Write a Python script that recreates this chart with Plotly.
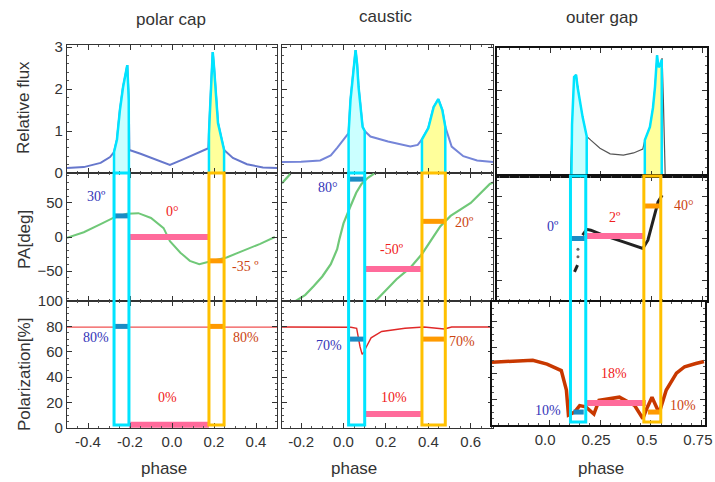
import numpy as np
import plotly.graph_objects as go

W, H = 715, 482

# ---------------- data ----------------
# polar cap
pc_flux_phase = [-0.5, -0.42, -0.34, -0.295, -0.276, -0.262, -0.248, -0.233, -0.219, -0.213, -0.206, -0.203,
                 -0.15, -0.1, -0.05, -0.01, 0.05, 0.1, 0.15, 0.173, 0.181, 0.189, 0.194, 0.2, 0.21, 0.219,
                 0.237, 0.248, 0.29, 0.357, 0.433, 0.5]
pc_flux = [0.12, 0.14, 0.24, 0.38, 0.5, 0.8, 1.5, 2.05, 2.4, 2.57, 1.74, 0.55,
           0.46, 0.36, 0.27, 0.19, 0.32, 0.43, 0.54, 0.59, 1.5, 2.45, 2.88, 2.53, 1.67, 1.19,
           0.79, 0.55, 0.36, 0.21, 0.13, 0.12]
pc_pa_phase = [-0.5, -0.42, -0.34, -0.28, -0.215, -0.16, -0.1, -0.04, -0.01, 0.04, 0.085, 0.13, 0.18,
               0.26, 0.34, 0.42, 0.49]
pc_pa = [-1, 7, 19, 28, 34, 35, 28, 13, -6, -23, -35, -40, -36, -30, -20, -10, 0]
pc_pol_phase = [-0.5, 0.5]
pc_pol = [79.5, 79.5]
pc_cyan = [-0.276, -0.205]
pc_yellow = [0.176, 0.248]
pc_bar_pa = [31, 0, -35]          # cyan, mid, yellow
pc_bar_pol = [80, 2.5, 80]
pc_lab_pa = ["30º", "0°", "-35 º"]
pc_lab_pol = ["80%", "0%", "80%"]

# caustic
ca_flux_phase = [-0.29, -0.2, -0.11, -0.06, -0.03, 0.0, 0.024, 0.033, 0.047, 0.057, 0.064, 0.071, 0.09, 0.1,
                 0.127, 0.21, 0.315, 0.35, 0.37, 0.4, 0.425, 0.447, 0.466, 0.48, 0.51, 0.565, 0.63, 0.705]
ca_flux = [0.26, 0.27, 0.3, 0.42, 0.6, 0.8, 0.95, 1.74, 2.5, 2.93, 2.6, 2.05, 1.1, 1.0,
           0.87, 0.75, 0.63, 0.67, 0.8, 1.07, 1.57, 1.76, 1.5, 1.1, 0.63, 0.4, 0.3, 0.26]
ca_pa_phase = [-0.29, -0.27, -0.25, None,
               -0.225, -0.18, -0.14, -0.1, -0.06, -0.03, -0.02, 0.0, 0.03, 0.06, 0.085, 0.115, 0.145, None,
               0.151, 0.19, 0.25, 0.315, 0.37, 0.425, 0.457, 0.505, 0.6, 0.69, 0.705]
ca_pa = [79, 86, 93, None,
         -94, -85, -72, -58, -40, -18, -4, 20, 43, 65, 78, 87, 93, None,
         -94, -82, -62, -45, -25, 1, 16, 31, 50, 78, 80]
ca_pol_phase = [-0.29, 0.0, 0.035, 0.062, 0.068, 0.078, 0.088, 0.097, 0.105, 0.13, 0.18, 0.29, 0.38, 0.44,
                0.475, 0.51, 0.705]
ca_pol = [79.5, 79.5, 79.3, 78.5, 73, 64, 58, 60, 63, 71, 76, 78.5, 79.5, 78.5, 78, 79.5, 79.5]
ca_cyan = [0.024, 0.1]
ca_yellow = [0.37, 0.48]
ca_bar_pa = [85, -47, 23]
ca_bar_pol = [70, 11, 70]
ca_lab_pa = ["80°", "-50º", "20º"]
ca_lab_pol = ["70%", "10%", "70%"]

# outer gap
og_flux_phase = [0.1, 0.108, 0.118, 0.128, 0.135, 0.145, 0.16, 0.18, 0.2, 0.245, 0.295, 0.36, 0.41, 0.455,
                 0.465, 0.49, 0.505, 0.515, 0.525, 0.532, 0.54, 0.55, 0.556, 0.565]
og_flux = [0.0, 1.2, 2.32, 2.37, 2.09, 1.78, 1.38, 0.93, 0.84, 0.65, 0.52, 0.49, 0.54, 0.63,
           0.84, 1.15, 1.6, 2.09, 2.83, 2.55, 2.6, 2.76, 1.78, 0.0]
og_pa_phase = [0.12, 0.135, None, 0.16, 0.18, 0.2, 0.26, 0.36, 0.43, 0.455, 0.48, 0.5, 0.515, 0.53, 0.55]
og_pa = [-40, -32, None, 4, 11, 10, 4, -4, -10, -12, -2, 16, 31, 44, 52]
og_pa_dot_phase = [0.137, 0.137]
og_pa_dot = [-22, -13]
og_pol_phase = [-0.28, -0.19, -0.08, -0.01, 0.06, 0.085, 0.095, 0.125, 0.15, 0.18, 0.22, 0.245, 0.345, 0.42,
                0.46, 0.48, 0.505, 0.54, 0.575, 0.625, 0.665, 0.72, 0.76]
og_pol = [48.5, 49, 50, 47, 42, 27, 7.7, 10, 15, 14, 8.5, 19, 21.5, 15, 5, 13, 21.5, 9.2, 27, 40, 45, 47.5, 49]
og_cyan = [0.105, 0.18]
og_yellow = [0.465, 0.548]
og_bar_pa = [0, 3, 39]
og_bar_pol = [10, 17, 10]
og_bar_pol_x = [[0.12, 0.17], [0.18, 0.475], [0.485, 0.545]]
og_lab_pa = ["0º", "2º", "40°"]
og_lab_pol = ["10%", "18%", "10%"]

titles = ["polar cap", "caustic", "outer gap"]
row_titles = ["Relative flux", "PA[deg]", "Polarization[%]"]

# ---------------- layout geometry (pixels) ----------------
def px(x):
    return x / W

def py(y):
    return 1 - y / H

col_x = [(67, 277), (282, 493), (497, 707)]
col3_row3_x = (492, 705)
row_y = [(45, 173), (173, 301), (301, 428)]
col3_row_y = [(48, 176), (176, 301), (302, 425)]

x_ranges = [[-0.5, 0.5], [-0.29, 0.705], [-0.26, 0.77]]
x3_row3_range = [-0.28, 0.765]
y_ranges = [[0, 3.05], [-94, 94], [0, 100]]
y3_ranges = [[0, 3.0], [-75, 75], [0, 95]]

BLUE_BAR = "#1b8cc4"
PINK = "#ff6b9b"
ORANGE_BAR = "#ff9a00"
CYAN = "#00e4ff"
RECT_ORANGE = "#ffc000"
LBL_BLUE = "#3434b8"
LBL_RED = "#f02020"
LBL_ORANGE = "#cc4410"
TICKFONT = dict(family="Liberation Sans, Arial, sans-serif", size=15, color="#333")

fig = go.Figure()
layout = dict(width=W, height=H, margin=dict(l=0, r=0, t=0, b=0, autoexpand=False), showlegend=False,
              plot_bgcolor="white", paper_bgcolor="white")

for r in range(3):
    for c in range(3):
        i = r * 3 + c + 1
        if c == 2:
            xd = col3_row3_x if r == 2 else col_x[2]
            yd = col3_row_y[r]
            xr = x3_row3_range if r == 2 else x_ranges[2]
            yr = y3_ranges[r]
            lw, lc = 2, "#111"
        else:
            xd = col_x[c]
            yd = row_y[r]
            xr = x_ranges[c]
            yr = y_ranges[r]
            lw, lc = 1.2, "#333"
        if c == 0:
            xt = dict(tickvals=[-0.4, -0.2, 0, 0.2, 0.4], ticktext=["-0.4", "-0.2", "0.0", "0.2", "0.4"])
        elif c == 1:
            xt = dict(tickvals=[-0.2, 0, 0.2, 0.4, 0.6], ticktext=["-0.2", "0.0", "0.2", "0.4", "0.6"])
        else:
            xt = dict(tickvals=[0, 0.25, 0.5, 0.75], ticktext=["0.0", "0.25", "0.5", "0.75"])
        if r == 0:
            yt = dict(tickvals=[0, 1, 2, 3])
        elif r == 1:
            yt = dict(tickvals=[-50, 0, 50])
        else:
            yt = dict(tickvals=[0, 20, 40, 60, 80, 100])
        sfx = "" if i == 1 else str(i)
        layout["xaxis" + sfx] = dict(domain=[px(xd[0]), px(xd[1])], range=xr, anchor="y" + sfx,
                                     showgrid=False, zeroline=False, showline=True, mirror="ticks",
                                     linecolor=lc, linewidth=lw, ticks="inside", ticklen=5, tickcolor="#333",
                                     showticklabels=(r == 2), tickfont=TICKFONT, fixedrange=True,
                                     ticklabeloverflow="allow", automargin=False,
                                     ticklabelshift=(-4 if (r == 2 and c == 2) else 0),
                                     minor=dict(ticks="inside", ticklen=2, tickcolor="#555", nticks=5),
                                     **xt)
        layout["yaxis" + sfx] = dict(domain=[py(yd[1]), py(yd[0])], range=yr, anchor="x" + sfx,
                                     showgrid=False, zeroline=False, showline=True, mirror="ticks",
                                     linecolor=lc, linewidth=lw, ticks="inside", ticklen=5, tickcolor="#333",
                                     showticklabels=(c == 0), tickfont=TICKFONT, fixedrange=True,
                                     automargin=False,
                                     minor=dict(ticks="inside", ticklen=2, tickcolor="#555", nticks=5),
                                     **yt)

fig.update_layout(**layout)


def ax(r, c):
    i = r * 3 + c + 1
    s = "" if i == 1 else str(i)
    return "x" + s, "y" + s


def band_poly(ph, val, a, b):
    xs = [a] + [p for p in ph if a < p < b] + [b]
    ys = list(np.interp(xs, ph, val))
    return [a] + xs + [b], [0] + ys + [0]


def add_col(c, fph, fv, fcol, fw, pa_ph, pa, pa_col, pa_w, pol_ph, pol, pol_col, pol_w,
            cyan, yellow, bar_pa, bar_pol, lab_pa, lab_pol, lab_pa_pos, lab_pol_pos, bar_pol_x=None):
    x1, y1 = ax(0, c)
    fig.add_trace(go.Scatter(x=fph, y=fv, mode="lines", line=dict(color=fcol, width=fw), xaxis=x1, yaxis=y1))
    for (a, b), fc in ((cyan, "rgba(200,255,255,0.95)"), (yellow, "rgba(255,255,150,0.95)")):
        bx, by = band_poly(fph, fv, a, b)
        fig.add_trace(go.Scatter(x=bx, y=by, mode="lines", fill="toself", fillcolor=fc,
                                 line=dict(color=CYAN, width=2.5), xaxis=x1, yaxis=y1))
    # PA
    x2, y2 = ax(1, c)
    fig.add_trace(go.Scatter(x=pa_ph, y=pa, mode="lines", line=dict(color=pa_col, width=pa_w),
                             connectgaps=False, xaxis=x2, yaxis=y2))
    bxs = [cyan, [cyan[1], yellow[0]], yellow]
    cols = [BLUE_BAR, PINK, ORANGE_BAR]
    for k in range(3):
        fig.add_trace(go.Scatter(x=bxs[k], y=[bar_pa[k]] * 2, mode="lines",
                                 line=dict(color=cols[k], width=6 if k == 1 else 5), xaxis=x2, yaxis=y2))
    # polarization
    x3, y3 = ax(2, c)
    fig.add_trace(go.Scatter(x=pol_ph, y=pol, mode="lines", line=dict(color=pol_col, width=pol_w),
                             xaxis=x3, yaxis=y3))
    pbx = bar_pol_x if bar_pol_x else bxs
    for k in range(3):
        fig.add_trace(go.Scatter(x=pbx[k], y=[bar_pol[k]] * 2, mode="lines",
                                 line=dict(color=cols[k], width=6 if k == 1 else 5), xaxis=x3, yaxis=y3))
    lcols = [LBL_BLUE, LBL_RED, LBL_ORANGE]
    for k in range(3):
        fig.add_annotation(x=lab_pa_pos[k][0], y=lab_pa_pos[k][1], xref=x2, yref=y2, text=lab_pa[k],
                           showarrow=False, xanchor="center", yanchor="middle",
                           font=dict(family="Liberation Serif, serif", size=14, color=lcols[k]))
        fig.add_annotation(x=lab_pol_pos[k][0], y=lab_pol_pos[k][1], xref=x3, yref=y3, text=lab_pol[k],
                           showarrow=False, xanchor="center", yanchor="middle",
                           font=dict(family="Liberation Serif, serif", size=14, color=lcols[k]))
    # band rectangles through PA and polarization rows
    top = col3_row_y[0][1] if c == 2 else row_y[0][1]
    bot = (col3_row_y[2][1] if c == 2 else row_y[2][1]) - 3
    for (a, b), lc in ((cyan, CYAN), (yellow, RECT_ORANGE)):
        fig.add_shape(type="rect", xref=x3, yref="paper", x0=a, x1=b, y0=py(bot), y1=py(top),
                      line=dict(color=lc, width=3), fillcolor="rgba(0,0,0,0)", layer="above")


add_col(0, pc_flux_phase, pc_flux, "#6677cc", 2, pc_pa_phase, pc_pa, "#70c878", 2,
        pc_pol_phase, pc_pol, "#f05050", 1.2, pc_cyan, pc_yellow, pc_bar_pa, pc_bar_pol,
        pc_lab_pa, pc_lab_pol,
        [(-0.36, 60), (0.0, 38), (0.35, -44)], [(-0.36, 71), (-0.02, 24), (0.35, 71)])
add_col(1, ca_flux_phase, ca_flux, "#7585d8", 2, ca_pa_phase, ca_pa, "#70c878", 2.2,
        ca_pol_phase, ca_pol, "#e02828", 1.4, ca_cyan, ca_yellow, ca_bar_pa, ca_bar_pol,
        ca_lab_pa, ca_lab_pol,
        [(-0.075, 72), (0.23, -18), (0.57, 21)], [(-0.07, 65), (0.236, 24), (0.56, 68)])
add_col(2, og_flux_phase, og_flux, "#555555", 1.2, og_pa_phase, og_pa, "#222222", 3,
        og_pol_phase, og_pol, "#c83800", 3.5, og_cyan, og_yellow, og_bar_pa, og_bar_pol,
        og_lab_pa, og_lab_pol,
        [(0.017, 14), (0.32, 25), (0.655, 40)], [(-0.007, 11), (0.32, 40), (0.655, 15)],
        bar_pol_x=og_bar_pol_x)
fig.add_trace(go.Scatter(x=og_pa_dot_phase, y=og_pa_dot, mode="markers",
                         marker=dict(color="#666", size=3), xaxis="x6", yaxis="y6"))

# titles and axis labels
title_pos = [(171, 20), (386, 17), (602, 18)]
for t, (x, y) in zip(titles, title_pos):
    fig.add_annotation(x=px(x), y=py(y), xref="paper", yref="paper", text=t, showarrow=False,
                       xanchor="center", yanchor="middle",
                       font=dict(family="Liberation Sans, Arial, sans-serif", size=17, color="#333"))
phase_pos = [164, 354, 601]
for x in phase_pos:
    fig.add_annotation(x=px(x), y=py(468), xref="paper", yref="paper", text="phase", showarrow=False,
                       xanchor="center", yanchor="middle",
                       font=dict(family="Liberation Sans, Arial, sans-serif", size=17, color="#333"))
ylab_pos = [108, 240, 375]
for t, y in zip(row_titles, ylab_pos):
    fig.add_annotation(x=px(24), y=py(y), xref="paper", yref="paper", text=t, showarrow=False,
                       textangle=-90, xanchor="center", yanchor="middle",
                       font=dict(family="Liberation Sans, Arial, sans-serif", size=17, color="#333"))

fig.write_html("out.html",
               post_script="document.body.style.margin='0';document.documentElement.style.overflow='hidden';",
               config={"displayModeBar": False})
